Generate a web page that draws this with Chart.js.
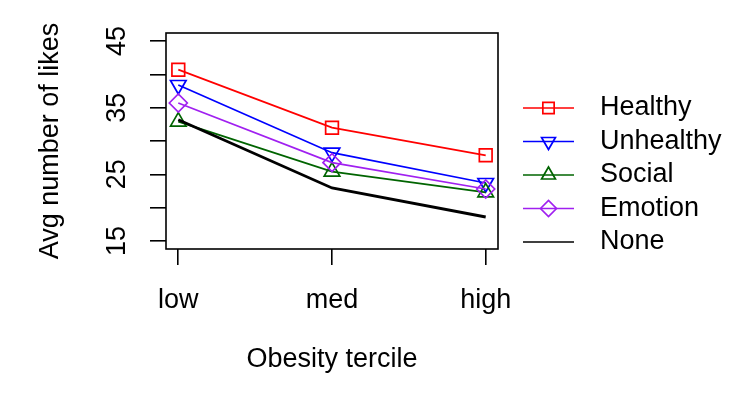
<!DOCTYPE html>
<html>
<head>
<meta charset="utf-8">
<script src="https://cdn.jsdelivr.net/npm/chart.js@4/dist/chart.umd.min.js"></script>
<style>
  html, body { margin: 0; padding: 0; background: #fff; }
  canvas { display: block; }
</style>
</head>
<body>
<canvas id="chart" width="747" height="415"></canvas>
<script>
// categories and tick labels
const xLabels = ["low", "med", "high"]
const yTicks = [15, 20, 25, 30, 35, 40, 45]
const yTickLabels = [15, 25, 35, 45]

// series (avg likes per obesity tercile)
const seriesNames = ["Healthy", "Unhealthy", "Social", "Emotion", "None"]
const healthy = [40.7, 32.0, 27.85]
const unhealthy = [38.4, 28.25, 23.7]
const social = [32.9, 25.4, 22.3]
const emotion = [35.7, 26.75, 22.8]
const none = [33.2, 22.95, 18.6]

const FONT = "'Liberation Sans', Arial, Helvetica, sans-serif"

const styles = [
  { color: "#ff0000", pointStyle: "rect", rotation: 0, width: 1.7 },
  { color: "#0000ff", pointStyle: "triangle", rotation: 180, width: 1.7 },
  { color: "#006400", pointStyle: "triangle", rotation: 0, width: 1.7 },
  { color: "#a020f0", pointStyle: "rectRot", rotation: 0, width: 1.7 },
  { color: "#000000", pointStyle: false, rotation: 0, width: 2.8 },
]

const seriesValues = [healthy, unhealthy, social, emotion, none]

const datasets = seriesValues.map((vals, i) => ({
  label: seriesNames[i],
  data: vals.map((v, j) => ({ x: j + 1, y: v })),
  borderColor: styles[i].color,
  backgroundColor: "rgba(0,0,0,0)",
  borderWidth: styles[i].width,
  pointStyle: styles[i].pointStyle,
  pointRotation: styles[i].rotation,
  pointRadius: styles[i].pointStyle ? 9 : 0,
  pointBorderWidth: 1.7,
  pointBorderColor: styles[i].color,
  pointBackgroundColor: "rgba(0,0,0,0)",
  tension: 0,
  order: seriesValues.length - i,
}))

// box around the plot, rotated y tick labels, legend on the right
const extras = {
  id: "extras",
  afterDraw(chart) {
    const ctx = chart.ctx
    const a = chart.chartArea
    ctx.save()
    ctx.strokeStyle = "#000"
    ctx.lineWidth = 1.6
    ctx.strokeRect(a.left, a.top, a.right - a.left, a.bottom - a.top)

    ctx.fillStyle = "#000"
    ctx.font = "27px " + FONT
    ctx.textAlign = "center"
    ctx.textBaseline = "middle"
    const ys = chart.scales.y
    yTickLabels.forEach(v => {
      ctx.save()
      ctx.translate(118, ys.getPixelForValue(v))
      ctx.rotate(-Math.PI / 2)
      ctx.fillText(String(v), 0, 0)
      ctx.restore()
    })

    // legend
    const rowY = 108
    const rowH = 33.5
    chart.data.datasets.forEach((ds, i) => {
      const y = rowY + i * rowH
      ctx.strokeStyle = ds.borderColor
      ctx.lineWidth = 1.7
      ctx.beginPath()
      ctx.moveTo(523, y)
      ctx.lineTo(574, y)
      ctx.stroke()
      if (ds.pointStyle) {
        ctx.fillStyle = "rgba(0,0,0,0)"
        Chart.helpers.drawPoint(ctx, {
          pointStyle: ds.pointStyle,
          rotation: ds.pointRotation,
          radius: 8,
          borderWidth: 1.7,
        }, 548.5, y)
      }
      ctx.fillStyle = "#000"
      ctx.textAlign = "left"
      ctx.fillText(ds.label, 600, y)
    })
    ctx.restore()
  }
}

new Chart(document.getElementById("chart"), {
  type: "line",
  data: { datasets: datasets },
  plugins: [extras],
  options: {
    responsive: false,
    animation: false,
    layout: { padding: { top: 33, right: 249, bottom: 0, left: 0 } },
    plugins: {
      legend: { display: false },
      tooltip: { enabled: false },
    },
    scales: {
      x: {
        type: "linear",
        min: 0.92,
        max: 3.08,
        afterBuildTicks: (scale) => { scale.ticks = xLabels.map((_, i) => ({ value: i + 1 })) },
        afterFit: (scale) => { scale.height = 166 },
        grid: {
          drawOnChartArea: false,
          drawTicks: true,
          tickLength: 16,
          color: "#000",
          lineWidth: 1.6,
        },
        border: { display: false },
        ticks: {
          padding: 19,
          color: "#000",
          font: { family: FONT, size: 27 },
          maxRotation: 0,
          callback: (v) => xLabels[v - 1],
        },
        title: {
          display: true,
          text: "Obesity tercile",
          color: "#000",
          font: { family: FONT, size: 27 },
          padding: { top: 0, bottom: 39 },
        },
      },
      y: {
        type: "linear",
        min: 13.8,
        max: 46.2,
        afterBuildTicks: (scale) => { scale.ticks = yTicks.map(v => ({ value: v })) },
        afterFit: (scale) => { scale.width = 166 },
        grid: {
          drawOnChartArea: false,
          drawTicks: true,
          tickLength: 16,
          color: "#000",
          lineWidth: 1.6,
        },
        border: { display: false },
        ticks: { display: false },
        title: {
          display: true,
          text: "Avg number of likes",
          color: "#000",
          font: { family: FONT, size: 27 },
          padding: { top: 34, bottom: 0 },
        },
      },
    },
  },
})
</script>
</body>
</html>
